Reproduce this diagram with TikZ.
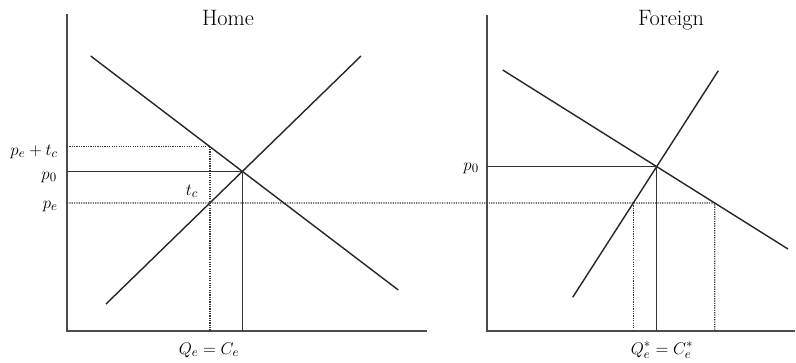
\documentclass[tikz,border=0pt]{standalone}
\usepackage{amsmath}
\usepackage{amssymb}
\usepackage{tikz}
\usetikzlibrary{positioning}

\tikzset{
    axis/.style={line width=1pt, black!70},
    curve/.style={line width=1.2pt, black!85},
    guide/.style={line width=1pt, black!80},
    guidedot/.style={line width=1.1pt, black!80, dash pattern=on 1pt off 1pt},
    lbl/.style={font=\fontsize{15.5}{18}\selectfont, inner sep=0pt},
    title/.style={font=\fontsize{19}{22}\selectfont, inner sep=0pt}
}

\begin{document}
\begin{tikzpicture}[x=0.03cm, y=-0.03cm]
\useasboundingbox (0,0) rectangle (796,362);

% Home market
\coordinate (o1) at (67,331);
\coordinate (top1) at (67,14);
\coordinate (end1) at (427,331);
\coordinate (d1a) at (90.7,56);
\coordinate (d1b) at (398.3,290);
\coordinate (s1a) at (106,304);
\coordinate (s1b) at (361,56);
\draw[axis] (top1) -- (o1) -- (end1);
\draw[curve] (d1a) -- (d1b);
\draw[curve] (s1a) -- (s1b);

% Foreign market
\coordinate (o2) at (487,331);
\coordinate (top2) at (487,15);
\coordinate (end2) at (795,331);
\coordinate (d2a) at (502.7,70);
\coordinate (d2b) at (788,249);
\coordinate (s2a) at (572.7,297.3);
\coordinate (s2b) at (718.3,70.7);
\draw[axis] (top2) -- (o2) -- (end2);
\draw[curve] (d2a) -- (d2b);
\draw[curve] (s2a) -- (s2b);

% equilibria and price levels
\coordinate (pel) at (67,203);
\coordinate (per) at (796,203);
\coordinate (e1) at (intersection of d1a--d1b and s1a--s1b);
\coordinate (e2) at (intersection of d2a--d2b and s2a--s2b);
\coordinate (b1) at (intersection of s1a--s1b and pel--per);
\coordinate (b1up) at (b1 |- 0,100);
\coordinate (a1) at (intersection of d1a--d1b and b1--b1up);
\coordinate (b2) at (intersection of s2a--s2b and pel--per);
\coordinate (c2) at (intersection of d2a--d2b and pel--per);

\draw[guide] (o1 |- e1) -- (e1) -- (e1 |- o1);
\draw[guide] (o2 |- e2) -- (e2) -- (e2 |- o2);
\draw[guidedot] (o1 |- a1) -- (a1) -- (a1 |- o1);
\draw[guidedot] (pel) -- (c2) -- (c2 |- o2);
\draw[guidedot] (b2) -- (b2 |- o2);

% labels
\node[title, anchor=base] (home) at (228,25) {Home};
\node[title, anchor=base] (foreign) at (671,25) {Foreign};
\node[lbl, anchor=base east] (petc) at (58,155) {$p_e+t_c$};
\node[lbl, anchor=base east] (p0h) at (57,179) {$p_0$};
\node[lbl, anchor=base east] (peh) at (58,208) {$p_e$};
\node[lbl, anchor=base] (tc) at (192,195) {$t_c$};
\node[lbl, anchor=base east] (p0f) at (479,170) {$p_0$};
\node[lbl, anchor=base] (qh) at (209,354) {$Q_e=C_e$};
\node[lbl, anchor=base] (qf) at (662,354) {$Q_e^*=C_e^*$};
\end{tikzpicture}
\end{document}
